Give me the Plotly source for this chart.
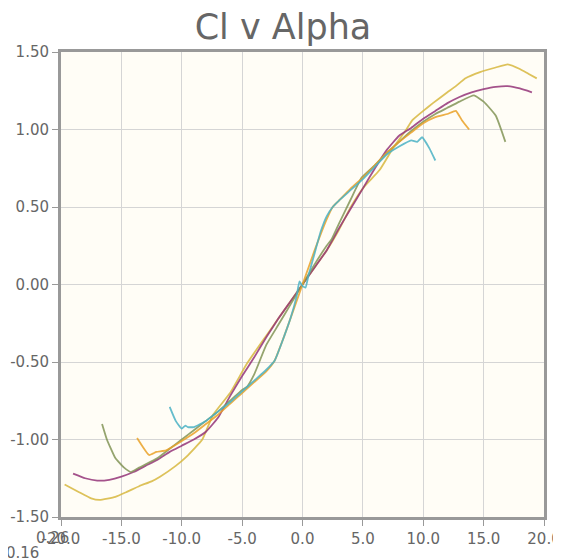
import plotly.graph_objects as go

# Series data (alpha in degrees, Cl)
cyan_alpha = [-11, -10.5, -10, -9.7, -9.5, -9, -8, -7, -6, -5, -4, -3, -2.3, -1.5, -1, -0.5, -0.25, 0, 0.25, 0.5, 1, 1.5, 2, 2.5, 3, 4, 5, 6, 7, 8, 9, 9.5, 9.9, 10.5, 11]
cyan_cl = [-0.79, -0.88, -0.93, -0.91, -0.92, -0.92, -0.88, -0.82, -0.76, -0.69, -0.62, -0.55, -0.49, -0.33, -0.22, -0.08, 0.02, -0.01, -0.02, 0.06, 0.20, 0.34, 0.44, 0.50, 0.54, 0.61, 0.68, 0.76, 0.84, 0.89, 0.93, 0.92, 0.95, 0.88, 0.80]

orange_alpha = [-13.7, -12.7, -12.1, -11.3, -10, -9, -8, -7, -6, -5, -4, -3, -2.3, -1.5, -1, 0, 1, 2, 2.5, 3, 4, 5, 6, 7, 8, 9, 10, 11, 12, 12.7, 13.2, 13.8]
orange_cl = [-0.99, -1.10, -1.08, -1.07, -1.01, -0.96, -0.90, -0.84, -0.77, -0.70, -0.63, -0.56, -0.49, -0.33, -0.22, 0.0, 0.22, 0.42, 0.50, 0.54, 0.62, 0.69, 0.77, 0.85, 0.92, 0.98, 1.04, 1.08, 1.10, 1.12, 1.06, 1.00]

olive_alpha = [-16.6, -16.2, -15.5, -14.8, -14.2, -13.5, -12, -11, -10, -9, -8, -7, -6, -5, -4.6, -4, -3, -2, -1, 0, 1, 2, 2.4, 3, 4, 4.9, 6, 7, 8, 9, 10, 11, 12, 13, 14.2, 15, 16, 16.8]
olive_cl = [-0.90, -1.00, -1.12, -1.18, -1.21, -1.18, -1.12, -1.06, -1.00, -0.94, -0.88, -0.82, -0.75, -0.68, -0.66, -0.58, -0.39, -0.26, -0.13, 0.0, 0.13, 0.25, 0.29, 0.39, 0.55, 0.69, 0.77, 0.85, 0.92, 0.99, 1.05, 1.10, 1.14, 1.18, 1.22, 1.18, 1.09, 0.92]

purple_alpha = [-19, -18, -17, -16, -15, -14, -13, -12, -11, -10, -9, -8, -7, -6, -5, -4, -3, -2, -1, 0, 1, 2, 3, 4, 5, 6, 7, 8, 9, 10, 11, 12, 13, 14, 15, 16, 17, 18, 19]
purple_cl = [-1.22, -1.25, -1.265, -1.26, -1.24, -1.21, -1.17, -1.13, -1.08, -1.04, -1.00, -0.95, -0.86, -0.72, -0.59, -0.47, -0.34, -0.22, -0.11, 0.0, 0.11, 0.22, 0.36, 0.49, 0.62, 0.75, 0.87, 0.96, 1.01, 1.07, 1.12, 1.17, 1.21, 1.24, 1.26, 1.275, 1.28, 1.265, 1.24]

yellow_alpha = [-19.7, -18.5, -17.5, -16.8, -15.5, -14.6, -13.5, -12.5, -11.8, -10.5, -9.6, -8.3, -7.4, -6, -4.6, -3, -2, -1, 0, 1, 2, 3, 4, 5.1, 6.4, 7.5, 8.6, 9.1, 10, 10.8, 12, 12.7, 13.5, 14.7, 16, 17, 18, 18.7, 19.4]
yellow_cl = [-1.29, -1.34, -1.38, -1.39, -1.37, -1.34, -1.30, -1.27, -1.24, -1.17, -1.11, -1.00, -0.84, -0.70, -0.51, -0.33, -0.22, -0.11, 0.0, 0.11, 0.22, 0.35, 0.50, 0.63, 0.74, 0.88, 1.00, 1.06, 1.12, 1.17, 1.24, 1.28, 1.33, 1.37, 1.40, 1.42, 1.39, 1.36, 1.33]

x_ticks = [-20, -15, -10, -5, 0, 5, 10, 15, 20]
x_tick_labels = ["-20.0", "-15.0", "-10.0", "-5.0", "0.0", "5.0", "10.0", "15.0", "20.0"]
y_ticks = [-1.5, -1.0, -0.5, 0.0, 0.5, 1.0, 1.5]
y_tick_labels = ["-1.50", "-1.00", "-0.50", "0.00", "0.50", "1.00", "1.50"]

series = [
    (yellow_alpha, yellow_cl, "#d8b83f"),
    (purple_alpha, purple_cl, "#953579"),
    (olive_alpha, olive_cl, "#839557"),
    (orange_alpha, orange_cl, "#EAA228"),
    (cyan_alpha, cyan_cl, "#4bb2c5"),
]

fig = go.Figure()
for xs, ys, col in series:
    fig.add_trace(go.Scatter(x=xs, y=ys, mode="lines", line=dict(color=col, width=1.8, shape="spline", smoothing=0.4),
                             opacity=0.85, showlegend=False, hoverinfo="skip"))

font_family = "DejaVu Sans, sans-serif"
fig.update_layout(
    width=561, height=560,
    margin=dict(l=53, r=25, t=44, b=51, autoexpand=False),
    paper_bgcolor="white",
    plot_bgcolor="#fffdf6",
    title=dict(text="Cl v Alpha", x=275 / 561, xanchor="center", xref="container", y=1 - 19 / 560, yref="container", yanchor="middle",
               font=dict(family=font_family, size=35, color="#666666"), automargin=False),
    showlegend=False,
)
fig.update_xaxes(range=[-20, 20], tickvals=x_ticks, ticktext=x_tick_labels, automargin=False,
                 showgrid=True, gridcolor="#d5d5d5", gridwidth=1, zeroline=False,
                 showline=True, linecolor="#999999", linewidth=3, mirror=True,
                 ticks="outside", ticklen=6, tickcolor="#999999", tickwidth=1,
                 tickfont=dict(family=font_family, size=15, color="#666666"))
fig.update_yaxes(range=[-1.5, 1.5], tickvals=y_ticks, ticktext=y_tick_labels, automargin=False,
                 showgrid=True, gridcolor="#d5d5d5", gridwidth=1, zeroline=False,
                 showline=True, linecolor="#999999", linewidth=3, mirror=True,
                 ticks="outside", ticklen=6, tickcolor="#999999", tickwidth=1,
                 tickfont=dict(family=font_family, size=15, color="#666666"))

fig.add_annotation(text="0.26", xref="paper", yref="paper", x=-0.0186, y=-0.045, xanchor="center", yanchor="middle",
                   showarrow=False, font=dict(family=font_family, size=15, color="#666666"))
fig.add_annotation(text="0.16", xref="paper", yref="paper", x=-0.079, y=-0.077, xanchor="center", yanchor="middle",
                   showarrow=False, font=dict(family=font_family, size=15, color="#666666"))

fig.write_html("out.html")
